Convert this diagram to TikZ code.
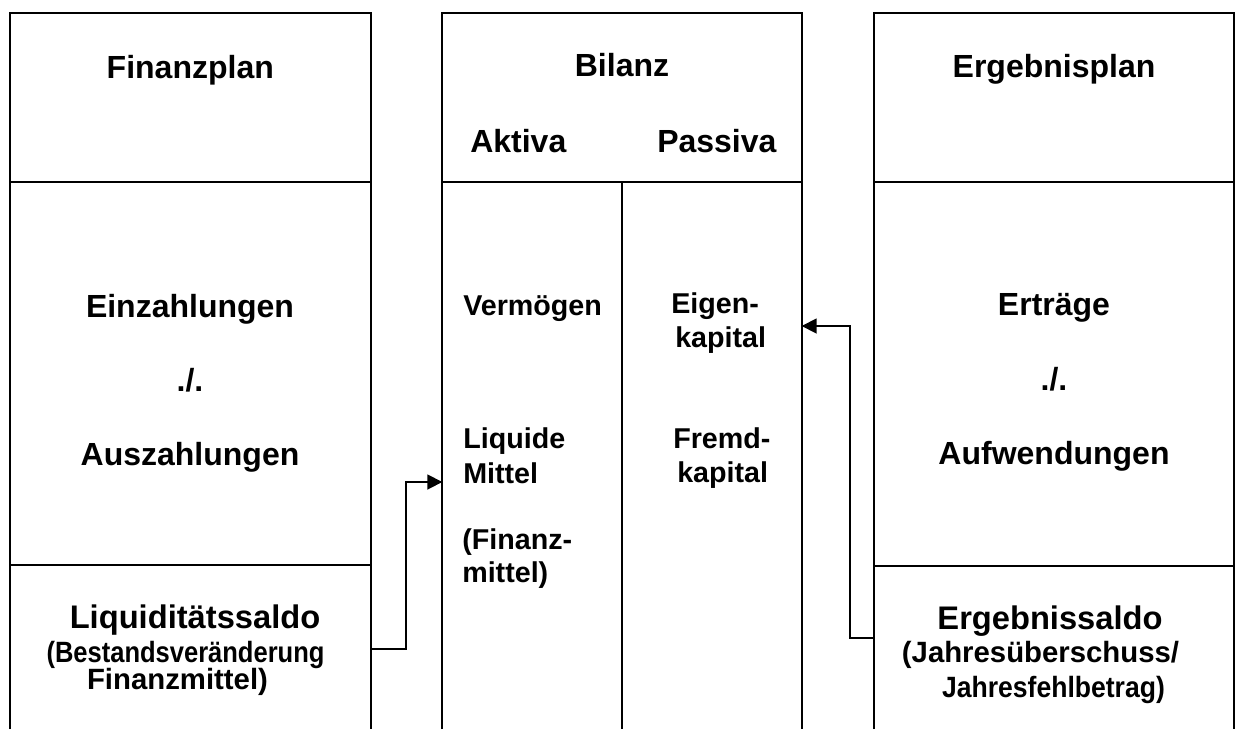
\documentclass[tikz,border=0pt]{standalone}
\usepackage{fontspec}
\setmainfont{Liberation Sans}
\usepackage{graphicx}
\usetikzlibrary{arrows.meta}
\begin{document}
\begin{tikzpicture}[x=0.75pt,y=-0.75pt,
  frame/.style={line width=1.5pt},
  conn/.style={line width=1.3pt,-{Triangle[length=11.25pt,width=11.25pt]}},
  big/.style={inner sep=0pt,anchor=base,font=\fontsize{24}{28}\selectfont\bfseries},
  saldo/.style={inner sep=0pt,anchor=base,font=\fontsize{24.5}{28}\selectfont\bfseries},
  sub/.style={inner sep=0pt,anchor=base,font=\fontsize{22}{26}\selectfont\bfseries},
  mid/.style={inner sep=0pt,anchor=base west,font=\fontsize{21.5}{26}\selectfont\bfseries},
]
\useasboundingbox (0,0) rectangle (1236,729);
% Finanzplan box (open at the bottom)
\draw[frame] (10,729) -- (10,13) -- (370.7,13) -- (370.7,729);
\draw[frame] (10,181.7) -- (370.7,181.7);
\draw[frame] (10,565) -- (370.7,565);
% Bilanz box
\draw[frame] (442.3,729) -- (442.3,13) -- (801.7,13) -- (801.7,729);
\draw[frame] (442.3,181.7) -- (801.7,181.7);
\draw[frame] (622.3,181.7) -- (622.3,729);
% Ergebnisplan box
\draw[frame] (874,729) -- (874,13) -- (1234.3,13) -- (1234.3,729);
\draw[frame] (874,181.7) -- (1234.3,181.7);
\draw[frame] (874,566) -- (1234.3,566);

% headers
\node[big] (fp) at (190.3,78) {Finanzplan};
\node[big] (bil) at (622,76) {Bilanz};
\node[big,anchor=base west] (akt) at (470,152) {Aktiva};
\node[big,anchor=base west] (pas) at (657,152) {Passiva};
\node[big] (ep) at (1054,77) {Ergebnisplan};

% Finanzplan body
\node[big] (ein) at (190,317) {Einzahlungen};
\node[big] (minus1) at (190,391) {./.};
\node[big] (aus) at (190,465) {Auszahlungen};
\node[saldo] (liqs) at (195,628) {Liquiditätssaldo};
\node[sub] (best) at (185.5,662) {\scalebox{0.87}[1]{(Bestandsveränderung}};
\node[sub] (fm) at (177.5,689) {Finanzmittel)};

% Bilanz body
\node[mid] (verm) at (463,315) {Vermögen};
\node[mid] (liq1) at (463,448) {Liquide};
\node[mid] (liq2) at (463,483) {Mittel};
\node[mid] (fin1) at (462,549) {(Finanz-};
\node[mid] (fin2) at (462,582) {mittel)};
\node[mid] (eig1) at (671,313) {Eigen-};
\node[mid] (eig2) at (675,347) {kapital};
\node[mid] (fre1) at (673,448) {Fremd-};
\node[mid] (fre2) at (677,482) {kapital};

% Ergebnisplan body
\node[big] (ertr) at (1054,315) {Erträge};
\node[big] (minus2) at (1054,390) {./.};
\node[big] (aufw) at (1054,464) {Aufwendungen};
\node[saldo] (ergs) at (1050,629) {Ergebnissaldo};
\node[sub] (jue) at (1040.5,662) {(Jahresüberschuss/};
\node[sub] (jfb) at (1053.5,697) {\scalebox{0.905}[1]{Jahresfehlbetrag)}};

% connectors
\coordinate (fpout) at (370.7,649);
\coordinate (liqin) at (442.3,482);
\coordinate (esout) at (874,638);
\coordinate (ekin) at (801.7,326);
\draw[conn] (fpout) -- ++(35,0) |- (liqin);
\draw[conn] (esout) -- ++(-24,0) |- (ekin);
\end{tikzpicture}
\end{document}
